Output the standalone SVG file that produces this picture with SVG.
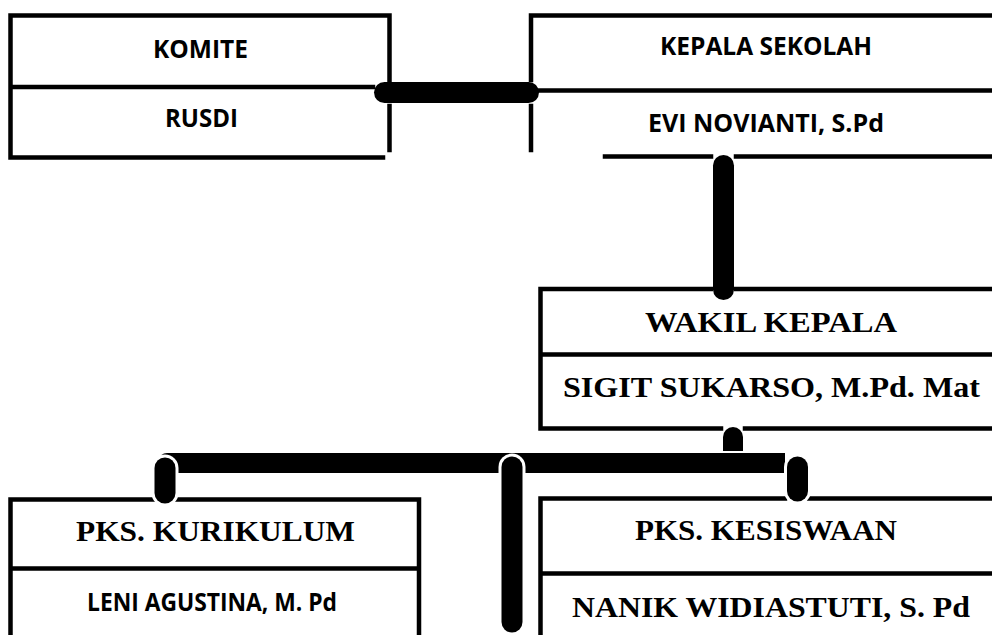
<svg xmlns="http://www.w3.org/2000/svg" width="992" height="635" viewBox="0 0 992 635">
<style>
.ln{stroke:#000;stroke-width:4.5;fill:none;stroke-linecap:square}
.bar{stroke:#000;stroke-width:21;stroke-linecap:round;fill:none}
.halo{stroke:#fff;stroke-width:27;stroke-linecap:round;fill:none}
.sans{font-family:"Open Sans","Noto Sans","Liberation Sans",sans-serif;font-weight:bold;font-size:24.5px;fill:#000;text-anchor:middle}
.serif{font-family:"Liberation Serif","Times New Roman",serif;font-weight:bold;font-size:30px;fill:#000;text-anchor:middle}
</style>
<rect width="992" height="635" fill="#fff"/>
<g id="komite">
<path class="ln" d="M10.5,15.5 H389.5 M10.5,15.5 V157.5 H383 M10.5,87 H373 M389.5,15.5 V80 M389.5,106 V150"/>
<text class="sans" x="200.5" y="58" textLength="95" lengthAdjust="spacingAndGlyphs">KOMITE</text>
<text class="sans" x="201.5" y="127" textLength="73" lengthAdjust="spacingAndGlyphs">RUSDI</text>
</g>
<g id="kepala-sekolah">
<path class="ln" d="M992,15.5 H531 V80 M531,106 V150 M540,90.5 H992 M605,156.5 H711 M736,156.5 H992"/>
<text class="sans" x="766" y="55" textLength="212" lengthAdjust="spacingAndGlyphs">KEPALA SEKOLAH</text>
<text class="sans" x="766" y="131.5" textLength="236" lengthAdjust="spacingAndGlyphs">EVI NOVIANTI, S.Pd</text>
</g>
<g id="wakil-kepala">
<path class="ln" d="M711,289 H540.5 V428.5 H721 M736,289 H992 M540.5,354.5 H992 M745,428.5 H992"/>
<text class="serif" x="771" y="332" textLength="252" lengthAdjust="spacingAndGlyphs">WAKIL KEPALA</text>
<text class="serif" x="771.5" y="397" textLength="417" lengthAdjust="spacingAndGlyphs">SIGIT SUKARSO, M.Pd. Mat</text>
</g>
<g id="pks-kurikulum">
<path class="ln" d="M153,499.5 H10.5 V640 M177,499.5 H419 V640 M10.5,568.5 H419"/>
<text class="serif" x="215.5" y="541" font-size="29" textLength="279" lengthAdjust="spacingAndGlyphs">PKS. KURIKULUM</text>
<text class="sans" x="212" y="611" font-size="22.5" textLength="250" lengthAdjust="spacingAndGlyphs">LENI AGUSTINA, M. Pd</text>
</g>
<g id="pks-kesiswaan">
<path class="ln" d="M785,498.5 H540.5 V640 M809,498.5 H992 M540.5,573.5 H992"/>
<text class="serif" x="766" y="540" font-size="29" textLength="262" lengthAdjust="spacingAndGlyphs">PKS. KESISWAAN</text>
<text class="serif" x="771" y="617" textLength="398" lengthAdjust="spacingAndGlyphs">NANIK WIDIASTUTI, S. Pd</text>
</g>
<g id="connectors">
<line class="bar" x1="384.5" y1="92.5" x2="528.5" y2="92.5"/>
<line class="bar" x1="723.5" y1="165.5" x2="723.5" y2="289.5"/>
<path d="M723,451 V437 A10,10 0 0 1 743,437 V451 Z" fill="#000"/>
<path d="M160,473 V460 Q160,453 167,453 H785 V473 Z" fill="#000"/>
<line class="halo" x1="165" y1="468" x2="165" y2="493"/>
<line class="bar" x1="165" y1="468" x2="165" y2="493" stroke-width="20"/>
<line class="halo" x1="512" y1="467" x2="512" y2="622"/>
<line class="bar" x1="512" y1="467" x2="512" y2="622" stroke-width="20"/>
<line class="halo" x1="797.5" y1="467" x2="797.5" y2="491"/>
<line class="bar" x1="797.5" y1="467" x2="797.5" y2="491" stroke-width="20"/>
</g>
</svg>
